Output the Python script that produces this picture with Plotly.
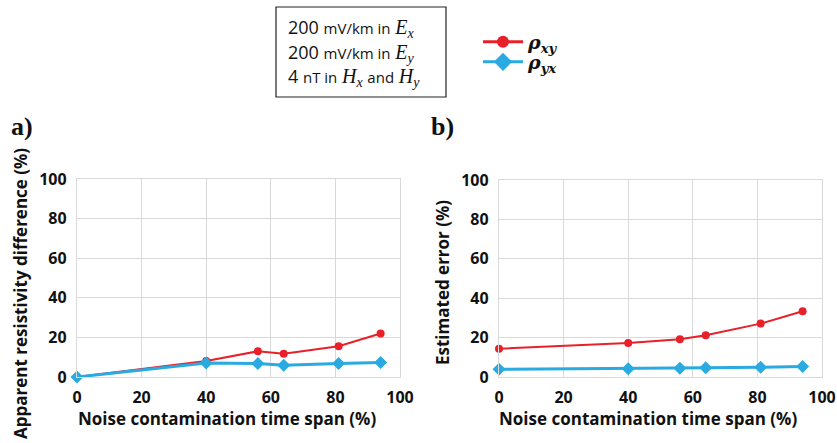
import plotly.graph_objects as go

# ---- data ----
span_pct = [0, 40, 56, 64, 81, 94]
diff_xy = [0, 8.1, 13.0, 11.8, 15.5, 22.0]
diff_yx = [0, 7.1, 6.8, 5.9, 6.8, 7.3]
err_xy = [14.4, 17.3, 19.2, 21.2, 27.1, 33.4]
err_yx = [3.9, 4.2, 4.4, 4.7, 4.9, 5.3]
x_ticks = [0, 20, 40, 60, 80, 100]
y_ticks = [0, 20, 40, 60, 80, 100]
series_names = ["<b><i>ρ</i><sub><i>xy</i></sub></b>", "<b><i>ρ</i><sub><i>yx</i></sub></b>"]

RED = "#E8202A"
BLUE = "#29ABE2"
GRID = "#D9D9D9"
W, H = 837, 443
SANS = "Open Sans"

fig = go.Figure()

def add_pair(xa, ya, yxy, yyx):
    fig.add_trace(go.Scatter(
        x=span_pct, y=yxy, xaxis=xa, yaxis=ya, mode="lines+markers",
        name=series_names[0], showlegend=False,
        line=dict(color=RED, width=2), marker=dict(symbol="circle", size=8, color=RED),
        cliponaxis=False))
    fig.add_trace(go.Scatter(
        x=span_pct, y=yyx, xaxis=xa, yaxis=ya, mode="lines+markers",
        name=series_names[1], showlegend=False,
        line=dict(color=BLUE, width=3), marker=dict(symbol="diamond", size=10, color=BLUE),
        cliponaxis=False))

add_pair("x", "y", diff_xy, diff_yx)
add_pair("x2", "y2", err_xy, err_yx)

# legend-only entries (no data)
fig.add_trace(go.Scatter(x=[None], y=[None], mode="lines+markers", name=series_names[0],
                         legend="legend", line=dict(color=RED, width=3),
                         marker=dict(symbol="circle", size=12, color=RED)))
fig.add_trace(go.Scatter(x=[None], y=[None], mode="lines+markers", name=series_names[1],
                         legend="legend2", line=dict(color=BLUE, width=3),
                         marker=dict(symbol="diamond", size=14, color=BLUE)))

def px(v):
    return v / W

def py(v):
    return 1 - v / H

axis_common = dict(
    range=[0, 100], tickvals=x_ticks, showgrid=True, gridcolor=GRID, gridwidth=1.3,
    showline=True, linecolor=GRID, linewidth=1.3, mirror=True, zeroline=False,
    ticks="", tickfont=dict(family=SANS, size=16, color="#111", weight="bold"),
    fixedrange=True, automargin=False, ticklabelstandoff=6,
)

leg_font = dict(family="DejaVu Serif", size=19, color="#111")
fig.update_layout(
    width=W, height=H, margin=dict(l=0, r=0, t=0, b=0, autoexpand=False),
    paper_bgcolor="white", plot_bgcolor="white",
    xaxis=dict(domain=[px(77), px(400)], anchor="y", **axis_common),
    yaxis=dict(domain=[py(377), py(179)], anchor="x", **axis_common),
    xaxis2=dict(domain=[px(499), px(822)], anchor="y2", **axis_common),
    yaxis2=dict(domain=[py(377), py(180)], anchor="x2", **axis_common),
    legend=dict(x=px(478), y=py(42), xanchor="left", yanchor="middle", font=leg_font,
                bgcolor="rgba(0,0,0,0)", itemwidth=40, borderwidth=0),
    legend2=dict(x=px(478), y=py(62), xanchor="left", yanchor="middle", font=leg_font,
                 bgcolor="rgba(0,0,0,0)", itemwidth=40, borderwidth=0),
    showlegend=True,
)

title_font = dict(family=SANS, size=17, color="#111", weight="bold")
ann = [
    dict(text="Noise contamination time span (%)", x=px(227), y=py(418)),
    dict(text="Noise contamination time span (%)", x=px(648), y=py(418)),
    dict(text="Apparent resistivity difference (%)", x=px(20), y=py(294), textangle=-90),
    dict(text="Estimated error (%)", x=px(442), y=py(283), textangle=-90),
]
for a in ann:
    fig.add_annotation(xref="paper", yref="paper", showarrow=False,
                       xanchor="center", yanchor="middle", font=title_font, **a)

for lab, xx in [("a)", 22), ("b)", 443)]:
    fig.add_annotation(text="<b>" + lab + "</b>", xref="paper", yref="paper",
                       x=px(xx), y=py(127), showarrow=False, xanchor="center", yanchor="middle",
                       font=dict(family="Liberation Serif", size=26, color="#111"))

# noise description box
fig.add_shape(type="rect", xref="paper", yref="paper",
              x0=px(276), x1=px(446), y0=py(97), y1=py(7),
              line=dict(color="#222", width=1.2), fillcolor="rgba(0,0,0,0)")
small = "<span style='font-size:15px'>"
def m(ch):
    return "<span style='font-family:Liberation Serif;font-size:20px'><i>" + ch + "</i></span>"
def s(ch):
    return "<sub><span style='font-family:Liberation Serif;font-size:14px'><i>" + ch + "</i></span></sub>"
lines = [
    "200 " + small + "mV/km in</span> " + m("E") + s("x"),
    "200 " + small + "mV/km in</span> " + m("E") + s("y"),
    "4 " + small + "nT in</span> " + m("H") + s("x") + " " + small + "and</span> " + m("H") + s("y"),
]
for i, t in enumerate(lines):
    fig.add_annotation(text=t, xref="paper", yref="paper", x=px(286), y=py(28 + 24.5 * i),
                       showarrow=False, xanchor="left", yanchor="middle",
                       font=dict(family=SANS, size=18, color="#111"))

fig.write_html("out.html")
